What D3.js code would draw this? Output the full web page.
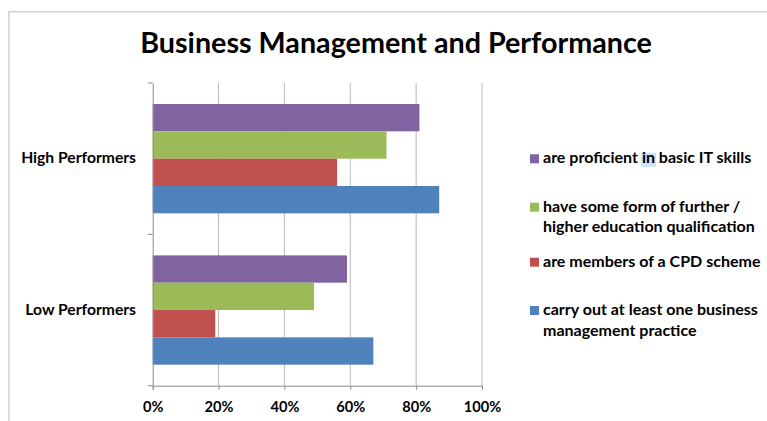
<!DOCTYPE html>
<html>
<head>
<meta charset="utf-8">
<script src="https://cdn.jsdelivr.net/npm/d3@7/dist/d3.min.js"></script>
<style>
  html, body { margin: 0; padding: 0; background: #fff; }
  svg { display: block; }
  text { font-family: Lato, "Open Sans", sans-serif; font-weight: bold; fill: #000; }
</style>
</head>
<body>
<svg id="chart" width="767" height="421"></svg>
<script>
// ---- data ----
const title = "Business Management and Performance";
const categories = ["High Performers", "Low Performers"];
const seriesNames = [
  "are proficient in basic IT skills",
  "have some form of further / higher education qualification",
  "are members of a CPD scheme",
  "carry out at least one business management practice"
];
const legendLines = [
  ["are proficient in basic IT skills"],
  ["have some form of further /", "higher education qualification"],
  ["are members of a CPD scheme"],
  ["carry out at least one business", "management practice"]
];
const itSkills      = [81, 59];
const furtherEdu    = [71, 49];
const cpdScheme     = [56, 19];
const mgmtPractice  = [87, 67];
const seriesValues = [itSkills, furtherEdu, cpdScheme, mgmtPractice];
const seriesColors = ["#8064A2", "#9BBB59", "#C0504D", "#4F81BD"];
const xTicks = [0, 20, 40, 60, 80, 100];

// ---- layout ----
const svg = d3.select("#chart");
const plot = { left: 152.7, right: 482, top: 83, bottom: 385.7 };

function fitWidth(sel, target) {
  const w = sel.node().getComputedTextLength();
  const fs = parseFloat(sel.attr("font-size"));
  return fs * target / w;
}

// outer border
svg.append("rect")
  .attr("x", 9).attr("y", 11.7).attr("width", 900).attr("height", 600)
  .attr("fill", "none").attr("stroke", "#cfcfcf").attr("stroke-width", 1.5);

// title
const t = svg.append("text")
  .attr("x", 396).attr("y", 53).attr("text-anchor", "middle")
  .attr("font-size", 26).text(title);
t.attr("font-size", fitWidth(t, 512));

// scales
const x = d3.scaleLinear().domain([0, 100]).range([plot.left, plot.right]);
const y = d3.scaleBand().domain(categories).range([plot.top, plot.bottom]).padding(0);
const ys = d3.scaleBand().domain(d3.range(seriesNames.length))
  .range([0, y.bandwidth()]).paddingInner(0).paddingOuter(0.77);

// gridlines
svg.append("g").selectAll("line").data(xTicks.slice(1)).join("line")
  .attr("x1", d => x(d)).attr("x2", d => x(d))
  .attr("y1", plot.top).attr("y2", plot.bottom)
  .attr("stroke", "#b8b8b8").attr("stroke-width", 1);

// bars
const groups = svg.append("g").selectAll("g").data(categories).join("g")
  .attr("transform", c => `translate(0,${y(c)})`);
groups.selectAll("rect")
  .data((c, ci) => seriesValues.map((vals, si) => ({ si, v: vals[ci] })))
  .join("rect")
  .attr("x", x(0))
  .attr("y", d => ys(d.si))
  .attr("width", d => x(d.v) - x(0))
  .attr("height", ys.bandwidth())
  .attr("fill", d => seriesColors[d.si]);

// x axis
const xAxis = d3.axisBottom(x).tickValues(xTicks).tickFormat(d => d + "%").tickSize(4).tickPadding(8);
const gx = svg.append("g").attr("transform", `translate(0,${plot.bottom})`).call(xAxis);
gx.select(".domain").attr("stroke", "#8c8c8c");
gx.selectAll(".tick line").attr("stroke", "#8c8c8c");
gx.selectAll(".tick text")
  .attr("font-family", "Lato, sans-serif").attr("font-weight", "bold")
  .attr("fill", "#000").attr("font-size", 13).attr("dy", null).attr("y", 0)
  .attr("transform", "translate(0,26)");
{
  const probe = gx.selectAll(".tick text").filter(d => d === 20);
  const fs = fitWidth(probe, 29);
  gx.selectAll(".tick text").attr("font-size", fs);
}

// y axis
const yAxis = d3.axisLeft(y).tickValues([]).tickSize(0);
const gy = svg.append("g").attr("transform", `translate(${plot.left},0)`).call(yAxis);
gy.select(".domain").attr("stroke", "#8c8c8c");
svg.append("g").selectAll("line").data([plot.top, y(categories[1]), plot.bottom]).join("line")
  .attr("x1", plot.left - 5).attr("x2", plot.left)
  .attr("y1", d => d).attr("y2", d => d)
  .attr("stroke", "#8c8c8c");

// category labels
const catLabels = svg.append("g").selectAll("text").data(categories).join("text")
  .attr("x", 136).attr("y", c => y(c) + y.bandwidth() / 2 + 4.5)
  .attr("text-anchor", "end").attr("font-size", 13.5).text(c => c);
catLabels.attr("font-size", fitWidth(catLabels.filter((d, i) => i === 0), 115));

// legend
const legendBaselines = [163.3, 211.7, 266.7, 315];
const lineGap = 20.5;
const leg = svg.append("g");
const probeLegend = leg.append("text").attr("font-size", 13).text(legendLines[1][1]);
const legFs = fitWidth(probeLegend, 212);
probeLegend.remove();

legendLines.forEach((lines, i) => {
  const by = legendBaselines[i];
  leg.append("rect")
    .attr("x", 530).attr("y", by - 9).attr("width", 9).attr("height", 9)
    .attr("fill", seriesColors[i]);
  const txt = leg.append("text").attr("x", 543).attr("y", by).attr("font-size", legFs);
  lines.forEach((ln, j) => {
    txt.append("tspan").attr("x", 543).attr("y", by + j * lineGap).text(ln);
  });
  if (i === 0) {
    // selection highlight on "in"
    const node = txt.node();
    const start = lines[0].indexOf(" in ") + 1;
    const x0 = 543 + node.getSubStringLength(0, start);
    const w = node.getSubStringLength(start, 2);
    leg.insert("rect", "text")
      .attr("x", x0 - 1).attr("y", by - 10.5).attr("width", w + 2).attr("height", 14)
      .attr("fill", "#cbe3f8");
  }
});
</script>
</body>
</html>
